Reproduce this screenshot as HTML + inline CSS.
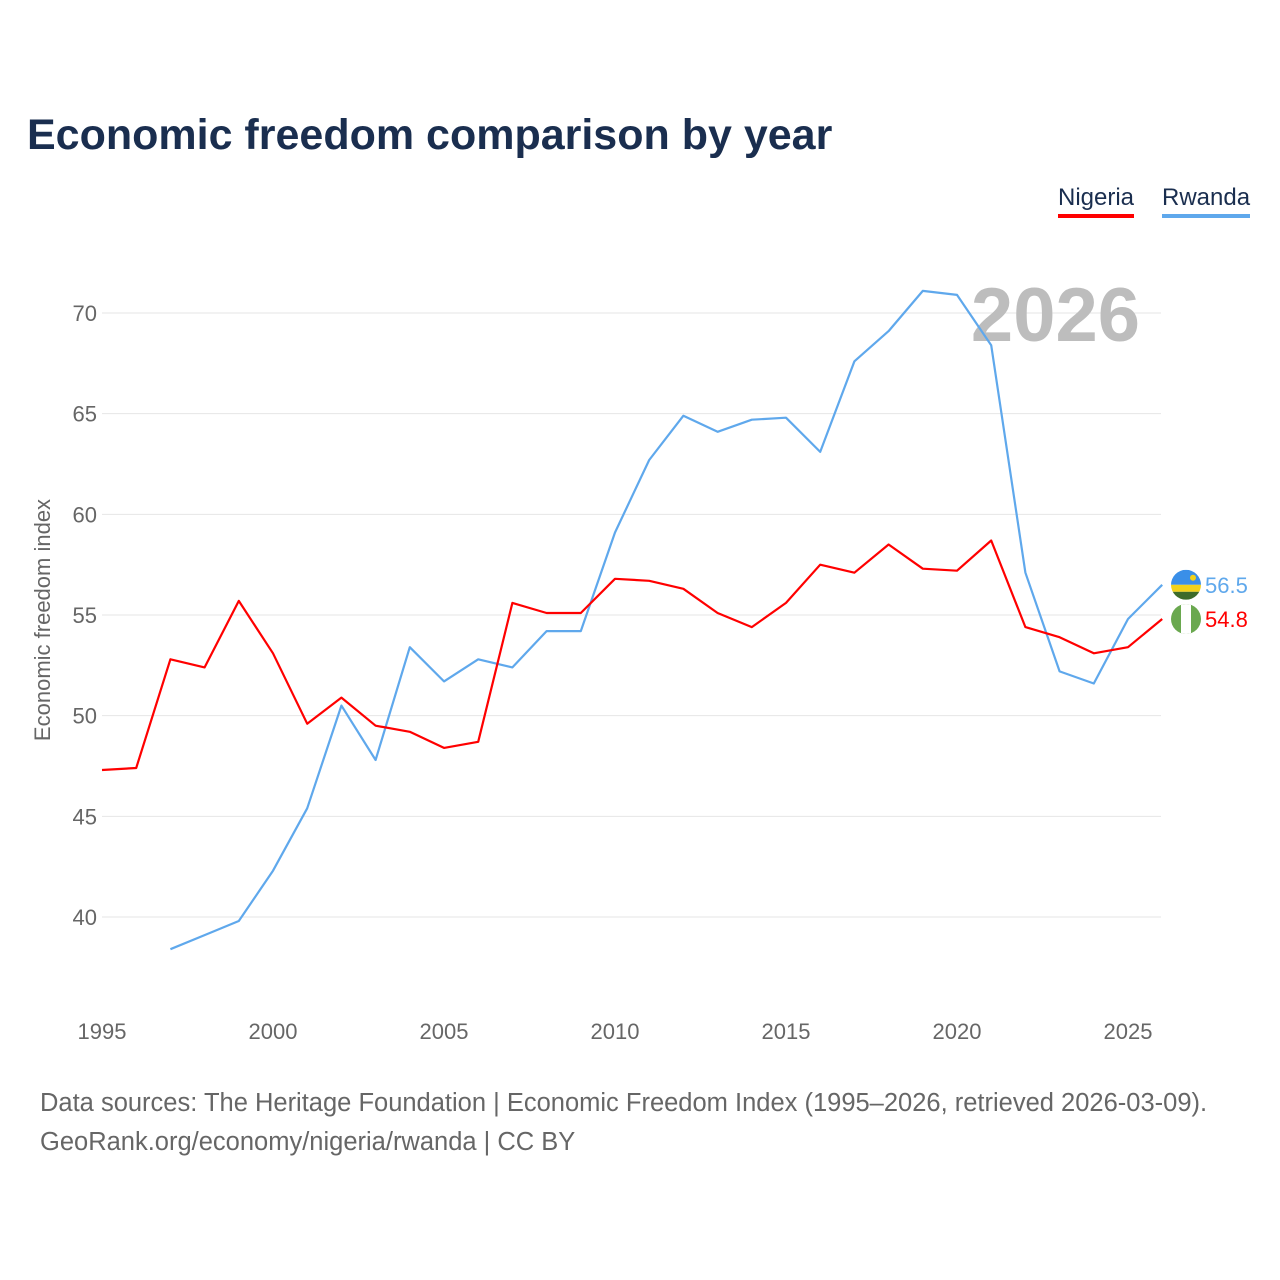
<!DOCTYPE html>
<html><head><meta charset="utf-8">
<style>
html,body{margin:0;padding:0;background:#fff;}
body{width:1280px;height:1280px;position:relative;font-family:"Liberation Sans",sans-serif;overflow:hidden;}
#title{position:absolute;left:27px;top:111px;font-size:43px;font-weight:bold;color:#1a2e4f;margin:0;}
.leg{position:absolute;top:184px;font-size:24px;color:#1a2e4f;padding-bottom:2px;}
#src{position:absolute;left:40px;top:1084px;font-size:25.5px;color:#666;line-height:39px;}
</style></head><body>
<h1 id="title">Economic freedom comparison by year</h1>
<div class="leg" style="left:1058px;border-bottom:4px solid #f00;">Nigeria</div>
<div class="leg" style="left:1162px;border-bottom:4px solid #5fa8ec;">Rwanda</div>
<svg id="chart" width="1280" height="1280" style="position:absolute;left:0;top:0"></svg>
<div id="src">Data sources: The Heritage Foundation | Economic Freedom Index (1995–2026, retrieved 2026-03-09).<br>GeoRank.org/economy/nigeria/rwanda | CC BY</div>
<script>
const years = [1995,1996,1997,1998,1999,2000,2001,2002,2003,2004,2005,2006,2007,2008,2009,2010,2011,2012,2013,2014,2015,2016,2017,2018,2019,2020,2021,2022,2023,2024,2025,2026];
const nigeria = [47.3,47.4,52.8,52.4,55.7,53.1,49.6,50.9,49.5,49.2,48.4,48.7,55.6,55.1,55.1,56.8,56.7,56.3,55.1,54.4,55.6,57.5,57.1,58.5,57.3,57.2,58.7,54.4,53.9,53.1,53.4,54.8];
const rwanda = [null,null,38.4,39.1,39.8,42.3,45.4,50.5,47.8,53.4,51.7,52.8,52.4,54.2,54.2,59.1,62.7,64.9,64.1,64.7,64.8,63.1,67.6,69.1,71.1,70.9,68.4,57.1,52.2,51.6,54.8,56.5];
const yTicks = [40,45,50,55,60,65,70];
const xTicks = [1995,2000,2005,2010,2015,2020,2025];

const NS="http://www.w3.org/2000/svg";
const svg=document.getElementById('chart');
const X=y=>102+(y-1995)*34.2;
const Y=v=>917-(v-40)*20.133;
function mk(t,a,p){const e=document.createElementNS(NS,t);for(const k in a)e.setAttribute(k,a[k]);(p||svg).appendChild(e);return e;}

yTicks.forEach(v=>{
  const g=mk('line',{x1:102,x2:1161,y1:Y(v),y2:Y(v),stroke:'#e6e6e6','stroke-width':1});
  
  
  const t=mk('text',{x:97,y:Y(v)+8,'text-anchor':'end','font-size':22,fill:'#666','font-family':'Liberation Sans, sans-serif'});
  t.textContent=v;
  
  
});
xTicks.forEach(v=>{
  const t=mk('text',{x:X(v),y:1039,'text-anchor':'middle','font-size':22,fill:'#666','font-family':'Liberation Sans, sans-serif'});
  t.textContent=v;
  
  
});
const yt=mk('text',{transform:'translate(50,620) rotate(-90)','text-anchor':'middle','font-size':22,fill:'#666','font-family':'Liberation Sans, sans-serif'});
yt.textContent='Economic freedom index';



const yr=mk('text',{x:1140,y:341,'text-anchor':'end','font-size':76,'font-weight':'bold',fill:'#bdbdbd','font-family':'Liberation Sans, sans-serif'});
yr.textContent='2026';



function line(vals,color,name){
  let d='';years.forEach((y,i)=>{const v=vals[i];if(v==null)return;d+=(d?'L':'M')+X(y).toFixed(1)+','+Y(v).toFixed(1);});
  const p=mk('path',{d:d,fill:'none',stroke:color,'stroke-width':2.2,'stroke-linejoin':'round'});
  
  
}
line(rwanda,'#5fa8ec','rwanda-line');
line(nigeria,'#f00','nigeria-line');

const last=years.length-1;
function flag(v,kind,color,name){
  const cy=Y(v),cx=1186;
  const g=mk('g',{});
  
  
  const id='c'+kind;
  const cp=mk('clipPath',{id:id},g);mk('circle',{cx:cx,cy:cy,r:15},cp);
  const gg=mk('g',{'clip-path':'url(#'+id+')'},g);
  if(kind==='rw'){
    mk('rect',{x:cx-15,y:cy-15,width:30,height:15,fill:'#3a8fe8'},gg);
    mk('rect',{x:cx-15,y:cy,width:30,height:7,fill:'#f2d21a'},gg);
    mk('rect',{x:cx-15,y:cy+7,width:30,height:8,fill:'#3d6b2a'},gg);
    mk('circle',{cx:cx+7,cy:cy-7,r:3,fill:'#f2d21a'},gg);
  }else{
    mk('rect',{x:cx-15,y:cy-15,width:30,height:30,fill:'#6aa84f'},gg);
    mk('rect',{x:cx-5,y:cy-15,width:10,height:30,fill:'#fff'},gg);
  }
  const t=mk('text',{x:1205,y:cy+8,'font-size':22,fill:color,'font-family':'Liberation Sans, sans-serif'});
  t.textContent=v.toFixed(1);
  
  
}
flag(rwanda[last],'rw','#5fa8ec','rwanda');
flag(nigeria[last],'ng','#f00','nigeria');
</script>
</body></html>
